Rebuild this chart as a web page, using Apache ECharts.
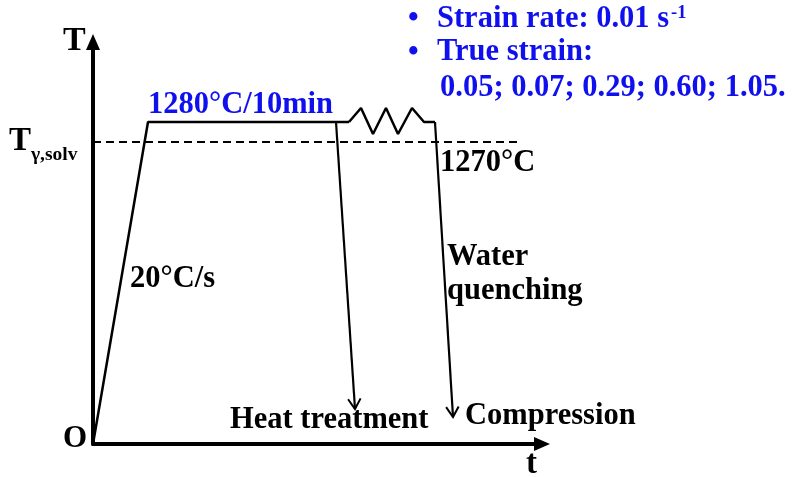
<!DOCTYPE html>
<html>
<head>
<meta charset="utf-8">
<script src="https://cdn.jsdelivr.net/npm/echarts@6/dist/echarts.min.js"></script>
<style>html,body{margin:0;padding:0;background:#fff}#c{width:792px;height:477px}</style>
</head>
<body>
<div id="c"></div>
<script>
// Schematic coordinates: x = time (arbitrary units), y = temperature level (arbitrary units)
const heatingAndHold = [[0, 0], [55, 322], [256, 322]];
const deformationZigzag = [[256, 322], [268, 336], [280, 310], [293, 336], [305, 310], [319, 336], [331, 322], [342, 322]];
const solvusLine = [[0, 302], [424, 302]];
// quench paths: [xStart, yStart, xEnd, yEnd]
const quenchPaths = [[243, 322, 262, 35], [342, 322, 360, 27]];
const axisMax = { x: 449, y: 402 };

const BLUE = '#1010ee';
const FONT = '"Liberation Serif", "Times New Roman", serif';
function txt(text, x, y, size, color) {
  return { type: 'text', style: { text: text, x: x, y: y + 2, fill: color || '#000',
    font: 'bold ' + size + 'px ' + FONT, align: 'left', verticalAlign: 'middle' } };
}
const FS = 30.5;
const labels = [
  txt('T', 63, 39, 34),
  txt('O', 63, 437, 31),
  txt('t', 526, 462, 33),
  txt('T', 9, 139, 33),
  txt('γ,solv', 31, 153, 19.5),
  txt('1280°C/10min', 148, 103, FS, BLUE),
  txt('1270°C', 440, 161, FS),
  txt('20°C/s', 130, 277, FS),
  txt('Water', 447, 255, FS),
  txt('quenching', 447, 289, FS),
  txt('Heat treatment', 230, 418, FS),
  txt('Compression', 465, 414, FS),
  txt('•', 408, 17, FS, BLUE),
  txt('Strain rate: 0.01 s', 437, 17, FS, BLUE),
  txt('-1', 671, 11, 18.5, BLUE),
  txt('•', 408, 51, FS, BLUE),
  txt('True strain:', 437, 50, FS, BLUE),
  txt('0.05; 0.07; 0.29; 0.60; 1.05.', 440, 86, FS, BLUE)
];

const chart = echarts.init(document.getElementById('c'), null, { renderer: 'canvas' });
const axisCommon = {
  type: 'value', min: 0,
  axisTick: { show: false }, axisLabel: { show: false }, splitLine: { show: false },
  axisLine: { show: true, symbol: ['none', 'triangle'], symbolSize: [14, 16],
    lineStyle: { color: '#000', width: 4 } }
};
chart.setOption({
  animation: false,
  grid: { left: 93, right: 250, top: 42, bottom: 33 },
  xAxis: Object.assign({}, axisCommon, { max: axisMax.x }),
  yAxis: Object.assign({}, axisCommon, { max: axisMax.y }),
  series: [
    { type: 'line', data: heatingAndHold, symbol: 'none', clip: false,
      lineStyle: { color: '#000', width: 2.5 } },
    { type: 'line', data: deformationZigzag, symbol: 'none', clip: false,
      lineStyle: { color: '#000', width: 2.5 } },
    { type: 'line', data: solvusLine, symbol: 'none', clip: false,
      lineStyle: { color: '#000', width: 2, type: [8, 5] } },
    { type: 'custom', data: quenchPaths, clip: false,
      encode: { x: [0, 2], y: [1, 3] },
      renderItem: function (params, api) {
        const p1 = api.coord([api.value(0), api.value(1)]);
        const p2 = api.coord([api.value(2), api.value(3)]);
        const ang = Math.atan2(p2[1] - p1[1], p2[0] - p1[0]);
        const L = 12, a = 0.55;
        const h1 = [p2[0] - L * Math.cos(ang - a), p2[1] - L * Math.sin(ang - a)];
        const h2 = [p2[0] - L * Math.cos(ang + a), p2[1] - L * Math.sin(ang + a)];
        return { type: 'group', children: [
          { type: 'line', shape: { x1: p1[0], y1: p1[1], x2: p2[0], y2: p2[1] },
            style: { stroke: '#000', lineWidth: 2.2 } },
          { type: 'polyline', shape: { points: [h1, p2, h2] },
            style: { stroke: '#000', fill: null, lineWidth: 2 } }
        ] };
      } }
  ],
  graphic: labels
});
</script>
</body>
</html>
